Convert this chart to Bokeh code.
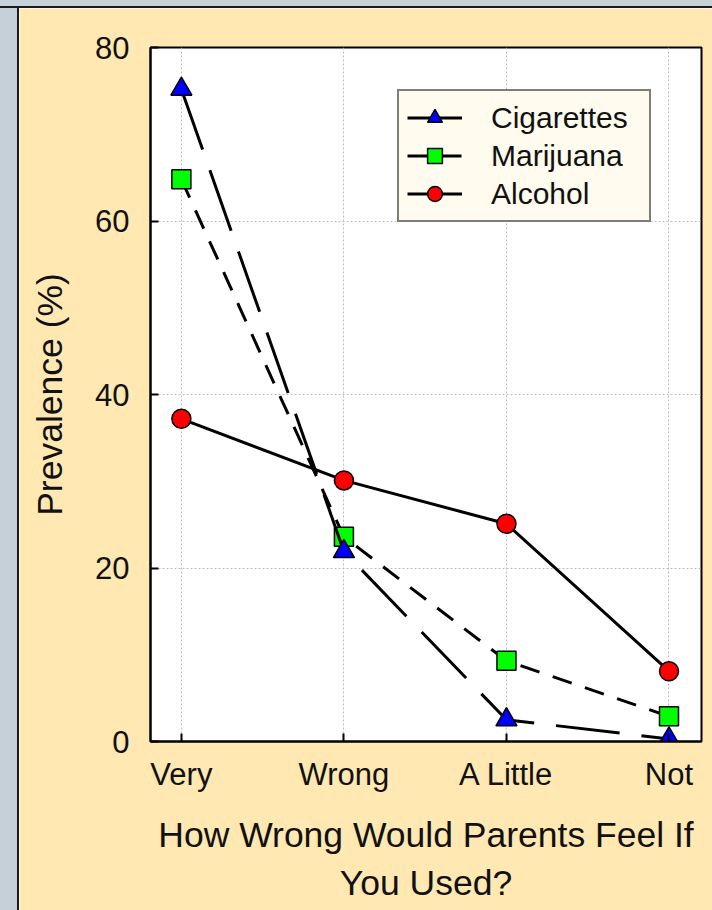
from bokeh.plotting import figure
from bokeh.models import Range1d, FixedTicker, Legend, LegendItem, Spacer
from bokeh.layouts import row, column
from bokeh.embed import file_html
from bokeh.resources import INLINE

# ---- data ----
categories = ["Very", "Wrong", "A Little", "Not"]
cigarettes = [75.2, 21.9, 2.5, 0.3]
marijuana = [64.8, 23.6, 9.3, 2.9]
alcohol = [37.2, 30.1, 25.1, 8.1]
y_ticks = [0, 20, 40, 60, 80]
y_grid = [20, 40, 60]

x = list(range(len(categories)))

BEIGE = "#FFE8B2"
SLATE = "#C5D0D8"
FONT = "Liberation Sans"

p = figure(width=693, height=902, output_backend="svg", toolbar_location=None,
           x_range=Range1d(-0.19, 3.2), y_range=Range1d(0, 80),
           min_border_left=131, min_border_right=11,
           min_border_top=39, min_border_bottom=169)

p.background_fill_color = "white"
p.border_fill_color = BEIGE
p.outline_line_color = "black"
p.outline_line_width = 2

# grids
p.xgrid.ticker = FixedTicker(ticks=x)
p.ygrid.ticker = FixedTicker(ticks=y_grid)
for g in (p.xgrid, p.ygrid):
    g.grid_line_color = "#BDBDBD"
    g.grid_line_dash = "2 2"
    g.grid_line_width = 1

# axes
p.xaxis.ticker = FixedTicker(ticks=x)
p.xaxis.major_label_overrides = {i: c for i, c in zip(x, categories)}
p.yaxis.ticker = FixedTicker(ticks=y_ticks)
for ax in (p.xaxis, p.yaxis):
    ax.axis_line_color = "black"
    ax.axis_line_width = 2
    ax.major_tick_in = 8
    ax.major_tick_out = 0
    ax.major_tick_line_width = 2
    ax.major_tick_line_color = "black"
    ax.minor_tick_line_color = None
    ax.major_label_text_font = FONT
    ax.major_label_text_font_size = "31px"
    ax.major_label_text_color = "#111111"
    ax.axis_label_text_font = FONT
    ax.axis_label_text_font_size = "35.5px"
    ax.axis_label_text_font_style = "normal"
    ax.axis_label_text_color = "#111111"

p.xaxis.major_label_standoff = 15
p.yaxis.major_label_standoff = 21
p.xaxis.axis_label = "How Wrong Would Parents Feel If\nYou Used?"
p.xaxis.axis_label_standoff = 20
p.yaxis.axis_label = "Prevalence (%)"
p.yaxis.axis_label_standoff = 22

# series: alcohol, marijuana, cigarettes (drawing order)
la = p.line(x, alcohol, line_color="black", line_width=3)
sa = p.scatter(x, alcohol, marker="circle", size=19, fill_color="#FF0000",
               line_color="black", line_width=1.5)
lm = p.line(x, marijuana, line_color="black", line_width=3, line_dash="20 14")
sm = p.scatter(x, marijuana, marker="square", size=19, fill_color="#00FF00",
               line_color="black", line_width=1.5)
lc = p.line(x, cigarettes, line_color="black", line_width=3, line_dash="64 22")
sc = p.scatter(x, cigarettes, marker="triangle", size=21, fill_color="#0000FF",
               line_color="black", line_width=1.5)

legend = Legend(items=[
    LegendItem(label="Cigarettes", renderers=[lc, sc]),
    LegendItem(label="Marijuana", renderers=[lm, sm]),
    LegendItem(label="Alcohol", renderers=[la, sa]),
], location=(247, 519))
legend.glyph_width = 55
legend.glyph_height = 37
legend.label_height = 37
legend.label_width = 150
legend.spacing = 1
legend.padding = 8
legend.margin = 0
legend.label_standoff = 29
legend.label_text_font = FONT
legend.label_text_font_size = "30px"
legend.label_text_color = "#111111"
legend.border_line_color = "black"
legend.border_line_width = 2
legend.background_fill_color = "#FFFBEF"
legend.background_fill_alpha = 1
p.add_layout(legend)

top_strip = Spacer(width=712, height=8,
                   styles={"background-color": SLATE,
                           "border-bottom": "2px solid #1a1a1a",
                           "box-sizing": "border-box"})
left_strip = Spacer(width=19, height=902,
                    styles={"background-color": SLATE,
                            "border-right": "2px solid #1a1a1a",
                            "box-sizing": "border-box"})

layout = column(top_strip, row(left_strip, p, spacing=0), spacing=0)

open("out.html", "w").write(file_html(layout, INLINE))
